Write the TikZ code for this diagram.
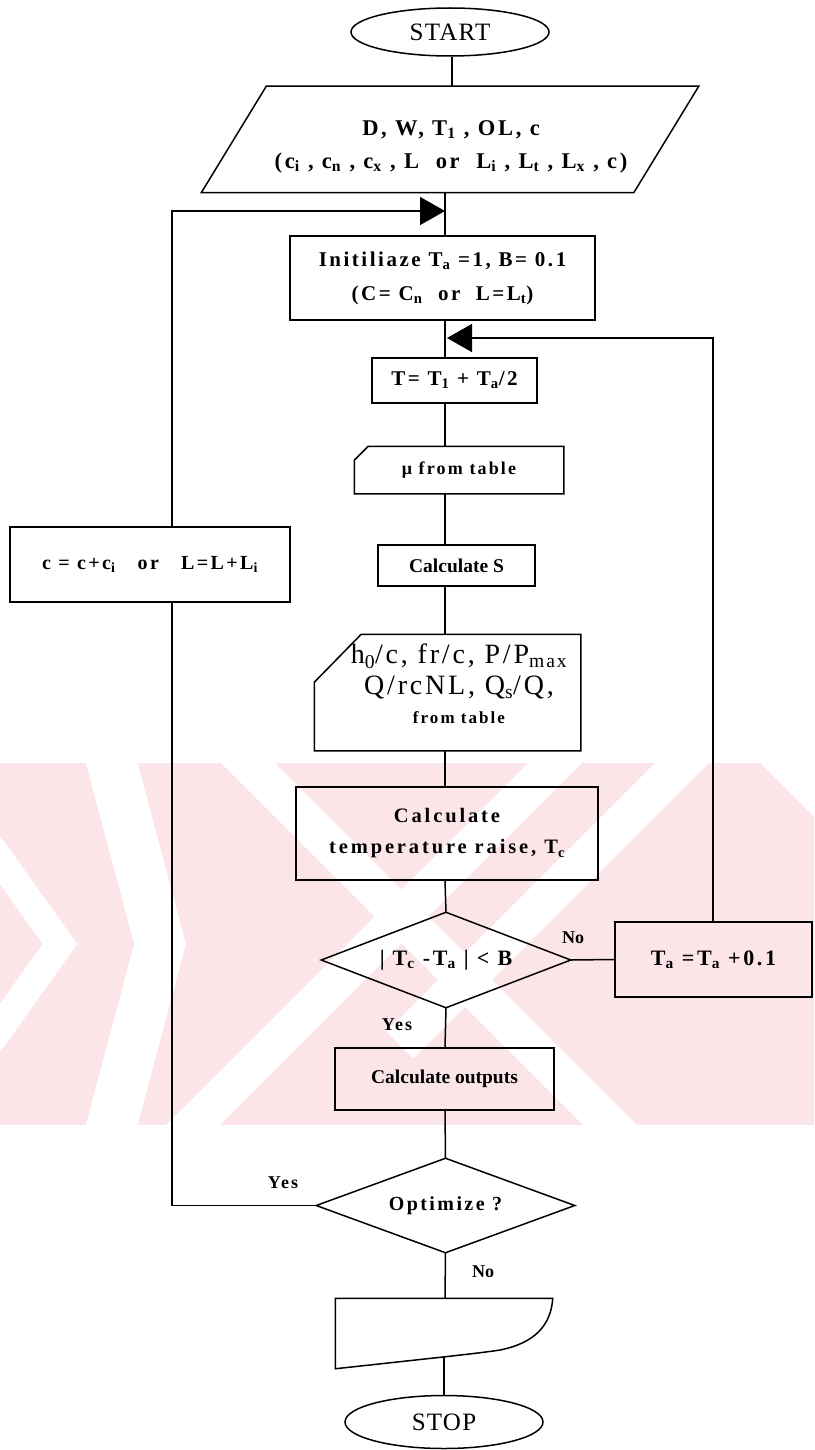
\documentclass[tikz,border=0pt]{standalone}
\usepackage{fontspec}
\setmainfont{Liberation Serif}
\newfontfamily\lsfont[LetterSpace=12]{Liberation Serif}
\newfontfamily\msfont[LetterSpace=10]{Liberation Serif}
\newfontfamily\wsfont[LetterSpace=14]{Liberation Serif}
\newfontfamily\tsfont[LetterSpace=5]{Liberation Serif}
\usetikzlibrary{shapes.geometric,arrows.meta}
\newcommand\sbs[1]{\textsubscript{#1}}
\newcommand\fs[2]{\fontsize{#1}{#2}\selectfont}
\definecolor{wmpink}{RGB}{252,229,233}

\begin{document}
\begin{tikzpicture}[x=1pt,y=-1pt,line width=1.5pt,
  every node/.style={inner sep=0pt, align=center},
  box/.style={draw, rectangle},
  bare/.style={rectangle},
  txt/.style={font=\fs{20}{32}\lsfont\bfseries},
  tight/.style={font=\fs{19.5}{24}\bfseries},
  lbl/.style={font=\fs{18}{18}\bfseries},
  lbls/.style={font=\fs{18}{18}\lsfont\bfseries},
  term/.style={ellipse, draw, font=\fs{25}{25}\tsfont},
  tip/.style={-{Triangle[length=25pt,width=28pt]}},
]
\useasboundingbox (0,0) rectangle (814,1450);

% pale background band with diagonal stripes
\begin{scope}
  \clip (0,763) rectangle (814,1125);
  \fill[wmpink] (0,763) rectangle (814,1125);
  \draw[white, line width=28pt, line join=miter] (-50,790) -- (60,944) -- (-50,1098);
  \draw[white, line width=50pt, line join=miter] (95,700) -- (160,944) -- (95,1188);
  \draw[white, line width=38pt] (100,1218) -- (600,718);
  \draw[white, line width=38pt] (200,715) -- (640,1155);
  \draw[white, line width=38pt] (400,1045) -- (720,725);
  \draw[white, line width=60pt] (760,720) -- (900,860);
\end{scope}

\coordinate (ax) at (445,0);

% terminals, boxes and their texts
\node[term, minimum width=198pt, minimum height=48pt] (start) at (450,32) {START};

\node[bare, minimum width=496pt, minimum height=105pt] (input) at (450,139.5) {};
\draw ([xshift=65pt]input.north west) -- (input.north east)
  -- ([xshift=-65pt]input.south east) -- (input.south west) -- cycle;
\node[font=\fs{22.5}{33}\lsfont\bfseries] (inputtxt) at (451,146.5)
  {D, W, T\sbs{1} , OL, c\\ (c\sbs{i} , c\sbs{n} , c\sbs{x} , L\ \ or\ \ L\sbs{i} , L\sbs{t} , L\sbs{x} , c)};

\node[box, minimum width=305pt, minimum height=84pt, txt, font=\fs{21}{34}\lsfont\bfseries]
  (init) at (442.5,278)
  {Initiliaze T\sbs{a} =1, B= 0.1\\ (C= C\sbs{n}\ \ or\ \ L=L\sbs{t})};
\node[box, minimum width=165pt, minimum height=45pt, txt, font=\fs{21}{24}\lsfont\bfseries]
  (tbox) at (454.5,380.5) {T= T\sbs{1} + T\sbs{a}/2};
\node[bare, minimum width=208pt, minimum height=46pt, txt, font=\fs{18}{24}\lsfont\bfseries]
  (mu) at (459,470) {μ from table};
\draw ([yshift=-14pt]mu.north west) -- ([xshift=14pt]mu.north west) -- (mu.north east)
  -- (mu.south east) -- (mu.south west) -- cycle;
\node[box, minimum width=157pt, minimum height=41pt, tight] (cals) at (456.5,565.5) {Calculate S};
\node[box, minimum width=280pt, minimum height=75pt, txt] (cbox) at (150,564.5)
  {c = c+c\sbs{i}\ \ \ or\ \ \ L=L+L\sbs{i}};

\node[bare, minimum width=265pt, minimum height=115pt] (tab) at (447.5,692.5) {};
\draw ([yshift=-48pt]tab.north west) -- ([xshift=47pt]tab.north west) -- (tab.north east)
  -- (tab.south east) -- (tab.south west) -- cycle;
\node[font=\fs{28}{31}\msfont] (tabtxt) at (459,684)
  {h\sbs{0}/c, fr/c, P/P\sbs{max}\\
   Q/rcNL, Q\sbs{s}/Q,\\[-2pt]
   {\fs{17}{24}\lsfont\bfseries from table}};

\node[box, minimum width=302pt, minimum height=93pt, font=\fs{20.5}{31}\wsfont\bfseries]
  (temp) at (447,833.5) {Calculate\\ temperature raise, T\sbs{c}};
\node[bare, minimum width=248pt, minimum height=94pt, txt, font=\fs{22}{24}\lsfont\bfseries]
  (conv) at (446,960) {| T\sbs{c} -T\sbs{a} | < B};
\draw (conv.north) -- (conv.east) -- (conv.south) -- (conv.west) -- cycle;
\node[box, minimum width=197pt, minimum height=75pt, txt, font=\fs{22}{24}\lsfont\bfseries]
  (incr) at (713.5,959.5) {T\sbs{a} =T\sbs{a} +0.1};
\node[box, minimum width=219pt, minimum height=62pt, tight] (outp) at (444.5,1079)
  {Calculate outputs};
\node[bare, minimum width=257pt, minimum height=93pt, txt] (opt) at (445.5,1205.5)
  {Optimize ?};
\draw (opt.north) -- (opt.east) -- (opt.south) -- (opt.west) -- cycle;
\node[bare, minimum width=216pt, minimum height=69pt] (doc) at (444,1333.5) {};
\draw (doc.south west) -- (doc.north west) -- (doc.north east)
  .. controls (551,1325) and (535,1343) .. (500,1350)
  .. controls (480,1353) and (460,1355) .. (443,1357) -- cycle;
\coordinate (docb) at (444,1357);
\node[term, minimum width=198pt, minimum height=53pt] (stop) at (444,1422) {STOP};

% connectors
\draw (start.south -| 452,0) -- (input.north -| 452,0);
\draw (input.south -| ax) -- (init.north -| ax);
\draw (init.south -| ax) -- (tbox.north -| ax);
\draw (tbox.south -| ax) -- (mu.north -| ax);
\draw (mu.south -| ax) -- (cals.north -| ax);
\draw (cals.south -| ax) -- (tab.north -| ax);
\draw (tab.south -| ax) -- (temp.north -| ax);
\draw (temp.south -| ax) -- (conv.north);
\draw (conv.south) -- (outp.north -| ax);
\draw (outp.south -| ax) -- (opt.north);
\draw (opt.south) -- (doc.north -| ax);
\draw (docb) -- (stop.north);
\draw (conv.east) -- (incr.west);

\coordinate (loopin) at (445,211);
\coordinate (backin) at (447,338);
\draw[tip] (cbox.north -| 172,0) |- (loopin);
\draw (opt.west) -| (cbox.south -| 172,0);
\draw[tip] (incr.north -| 713,0) |- (backin);

% branch labels
\node[lbl] (no1) at (573,938) {No};
\node[lbls] (yes1) at (397,1025) {Yes};
\node[lbls] (yes2) at (283,1183) {Yes};
\node[lbl] (no2) at (483,1272) {No};
\end{tikzpicture}
\end{document}
